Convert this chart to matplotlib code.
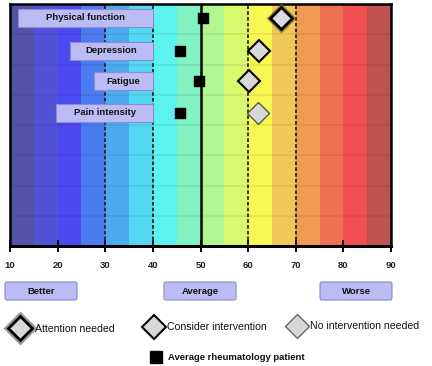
import matplotlib
matplotlib.use("Agg")
import matplotlib.pyplot as plt
from matplotlib.patches import FancyBboxPatch

plt.rcParams['font.family'] = ['Liberation Sans', 'DejaVu Sans']

measures = ["Physical function", "Depression", "Fatigue", "Pain intensity"]
patient_scores = [66.9, 62.3, 60.2, 62.1]
average_scores = [50.5, 45.7, 49.7, 45.7]
status = ["attention", "consider", "consider", "none"]
row_pos = [0.45, 1.55, 2.55, 3.6]
band_edges = list(range(10, 95, 5))
band_colors = ["#5252a8", "#5252d8", "#4a4af0", "#4a7cf0", "#4caaf0", "#52d8f0",
               "#5cf2f0", "#82f2c2", "#b2f892", "#d8f86e", "#f8f852", "#f0c85a",
               "#f09a52", "#f07052", "#f05052", "#c05252"]
ticks = [10, 20, 30, 40, 50, 60, 70, 80, 90]
dashed_lines = [30, 40, 60, 70]
scale_labels = ["Better", "Average", "Worse"]
legend_labels = ["Attention needed", "Consider intervention", "No intervention needed",
                 "Average rheumatology patient"]

# layout of the label boxes (data units)
box_left = [11.7, 22.6, 27.6, 19.7]
box_right = 40.0
box_h = 0.6

fig = plt.figure(figsize=(4.32, 3.66), dpi=100)
ax = fig.add_axes([10/432, 120/366, 381/432, 242/366])
ax.set_xlim(10, 90)
ax.set_ylim(8, 0)

for i, c in enumerate(band_colors):
    ax.axvspan(band_edges[i], band_edges[i+1], color=c, lw=0, zorder=0)
for y in range(1, 8):
    ax.axhline(y, color="#000000", alpha=0.07, lw=1.2, zorder=1)
for x in dashed_lines:
    ax.axvline(x, color="#222222", lw=1.3, ls=(0, (2, 1.2)), zorder=2)
ax.axvline(50, color="black", lw=1.8, zorder=2)

# label boxes
for name, y, bl in zip(measures, row_pos, box_left):
    ax.add_patch(FancyBboxPatch((bl, y - box_h/2), box_right - bl, box_h,
                                boxstyle="square,pad=0", fc="#bcbcf4", ec="#8c8cd0",
                                lw=0.8, zorder=4))
    ax.text((bl + box_right)/2, y, name, ha="center", va="center", fontsize=6.8,
            fontweight="bold", color="#111111", zorder=5)

# average markers
ax.scatter(average_scores, row_pos, marker="s", s=60, color="black", zorder=6)

# patient diamonds
for v, y, st in zip(patient_scores, row_pos, status):
    if st == "attention":
        ax.plot(v, y, marker="D", ms=15, color="#6b6a2a", alpha=0.7, mec="none", zorder=6)
        ax.plot(v, y, marker="D", ms=11, mfc="#dcdcdc", mec="black", mew=2, zorder=7)
    elif st == "consider":
        ax.plot(v, y, marker="D", ms=11, mfc="#d8d8d8", mec="black", mew=1.5, zorder=7)
    else:
        ax.plot(v, y, marker="D", ms=11, mfc="#d8d8d8", mec="#555555", mew=1.0, zorder=7)

for s in ["top", "left", "right"]:
    ax.spines[s].set_linewidth(1.8)
ax.spines["bottom"].set_linewidth(2.2)
ax.set_yticks([])
ax.set_xticks(ticks)
ax.set_xticklabels([str(t) for t in ticks], fontsize=6.8, fontweight="bold", color="#222222")
ax.tick_params(axis="x", direction="inout", length=8, width=1.4, pad=7)

# bottom overlay axes
ov = fig.add_axes([0, 0, 1, 1])
ov.set_xlim(0, 432)
ov.set_ylim(366, 0)
ov.axis("off")

btn_x = [5, 164, 320]
for lab, x0 in zip(scale_labels, btn_x):
    ov.add_patch(FancyBboxPatch((x0, 282), 72, 18, boxstyle="round,pad=0,rounding_size=2",
                                fc="#bcbcf4", ec="#8888cc", lw=0.8))
    ov.text(x0 + 36, 291, lab, ha="center", va="center", fontsize=6.8, fontweight="bold",
            color="#111111")

# legend
ov.plot(20, 328, marker="D", ms=17, color="#555555", alpha=0.6, mec="none")
ov.plot(20, 328, marker="D", ms=12, mfc="#d8d8d8", mec="black", mew=2)
ov.text(35, 329, legend_labels[0], va="center", fontsize=7.6, color="#111111")
ov.plot(154, 327, marker="D", ms=12, mfc="#d8d8d8", mec="black", mew=1.5)
ov.text(167, 327, legend_labels[1], va="center", fontsize=7.6, color="#111111")
ov.plot(297, 326, marker="D", ms=12, mfc="#d8d8d8", mec="#666666", mew=1.0)
ov.text(310, 326, legend_labels[2], va="center", fontsize=7.6, color="#111111")
ov.plot(156, 357, marker="s", ms=8, color="black")
ov.text(168, 357, legend_labels[3], va="center", fontsize=6.8, fontweight="bold", color="#111111")

fig.savefig("out.png", dpi=100)
